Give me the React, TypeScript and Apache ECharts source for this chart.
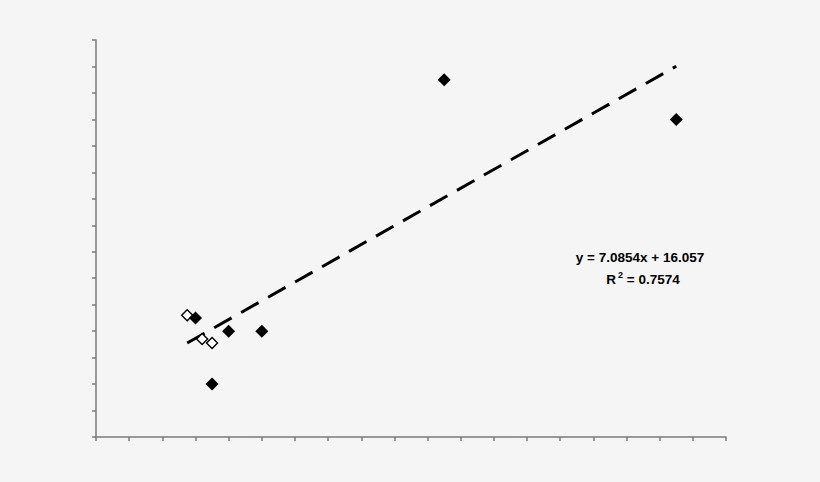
import React, { useEffect, useRef } from "react";
import * as echarts from "echarts";

const filledPoints: [number, number][] = [
  [3, 45],
  [3.5, 20],
  [4, 40],
  [5, 40],
  [10.5, 135],
  [17.5, 120],
];
const openPoints: [number, number][] = [
  [2.75, 46],
  [3.2, 37],
  [3.5, 35.5],
];
const trendLine: [number, number][] = [
  [2.75, 35.5],
  [17.5, 140.1],
];
const equationText = "y = 7.0854x + 16.057";
const rSquaredValue = "0.7574";

export default function App() {
  const ref = useRef<HTMLDivElement>(null);
  useEffect(() => {
    if (!ref.current) return;
    const chart = echarts.init(ref.current, null, { renderer: "svg" });
    const axisColor = "#7a7a7a";
    const font = "bold 13.5px 'Liberation Sans', Arial, sans-serif";
    chart.setOption({
      animation: false,
      backgroundColor: "#f5f5f5",
      grid: { left: 96, top: 40, right: 94, bottom: 45 },
      xAxis: {
        type: "value",
        min: 0,
        max: 19,
        interval: 1,
        axisLine: { lineStyle: { color: axisColor, width: 1.5 } },
        axisTick: { show: true, length: 4, inside: false, lineStyle: { color: axisColor, width: 1.5 } },
        axisLabel: { show: false },
        splitLine: { show: false },
      },
      yAxis: {
        type: "value",
        min: 0,
        max: 150,
        interval: 10,
        axisLine: { show: true, lineStyle: { color: axisColor, width: 1.5 } },
        axisTick: { show: true, length: 4, inside: false, lineStyle: { color: axisColor, width: 1.5 } },
        axisLabel: { show: false },
        splitLine: { show: false },
      },
      series: [
        {
          type: "line",
          data: trendLine,
          symbol: "none",
          lineStyle: { color: "#000", width: 3, type: [20, 11] },
          z: 1,
        },
        {
          type: "scatter",
          data: filledPoints,
          symbol: "diamond",
          symbolSize: 13,
          itemStyle: { color: "#000", opacity: 1 },
          z: 3,
        },
        {
          type: "scatter",
          data: openPoints,
          symbol: "diamond",
          symbolSize: 11,
          itemStyle: { color: "#fff", borderColor: "#000", borderWidth: 1.4, opacity: 1 },
          z: 2,
        },
      ],
      graphic: [
        {
          type: "text",
          x: 640,
          y: 257,
          style: {
            text: equationText,
            font,
            fill: "#000",
            align: "center",
            verticalAlign: "middle",
          },
        },
        {
          type: "text",
          x: 643,
          y: 279,
          style: {
            text: "{r|R}{sup|2}{r| = " + rSquaredValue + "}",
            align: "center",
            verticalAlign: "middle",
            rich: {
              r: { font, fill: "#000" },
              sup: {
                font: "bold 9px 'Liberation Sans', Arial, sans-serif",
                fill: "#000",
                padding: [0, 0, 8, 2],
              },
            },
          },
        },
      ],
    });
    return () => chart.dispose();
  }, []);
  return (
    <div
      ref={ref}
      style={{ position: "fixed", left: 0, top: 0, width: 820, height: 482 }}
    />
  );
}
